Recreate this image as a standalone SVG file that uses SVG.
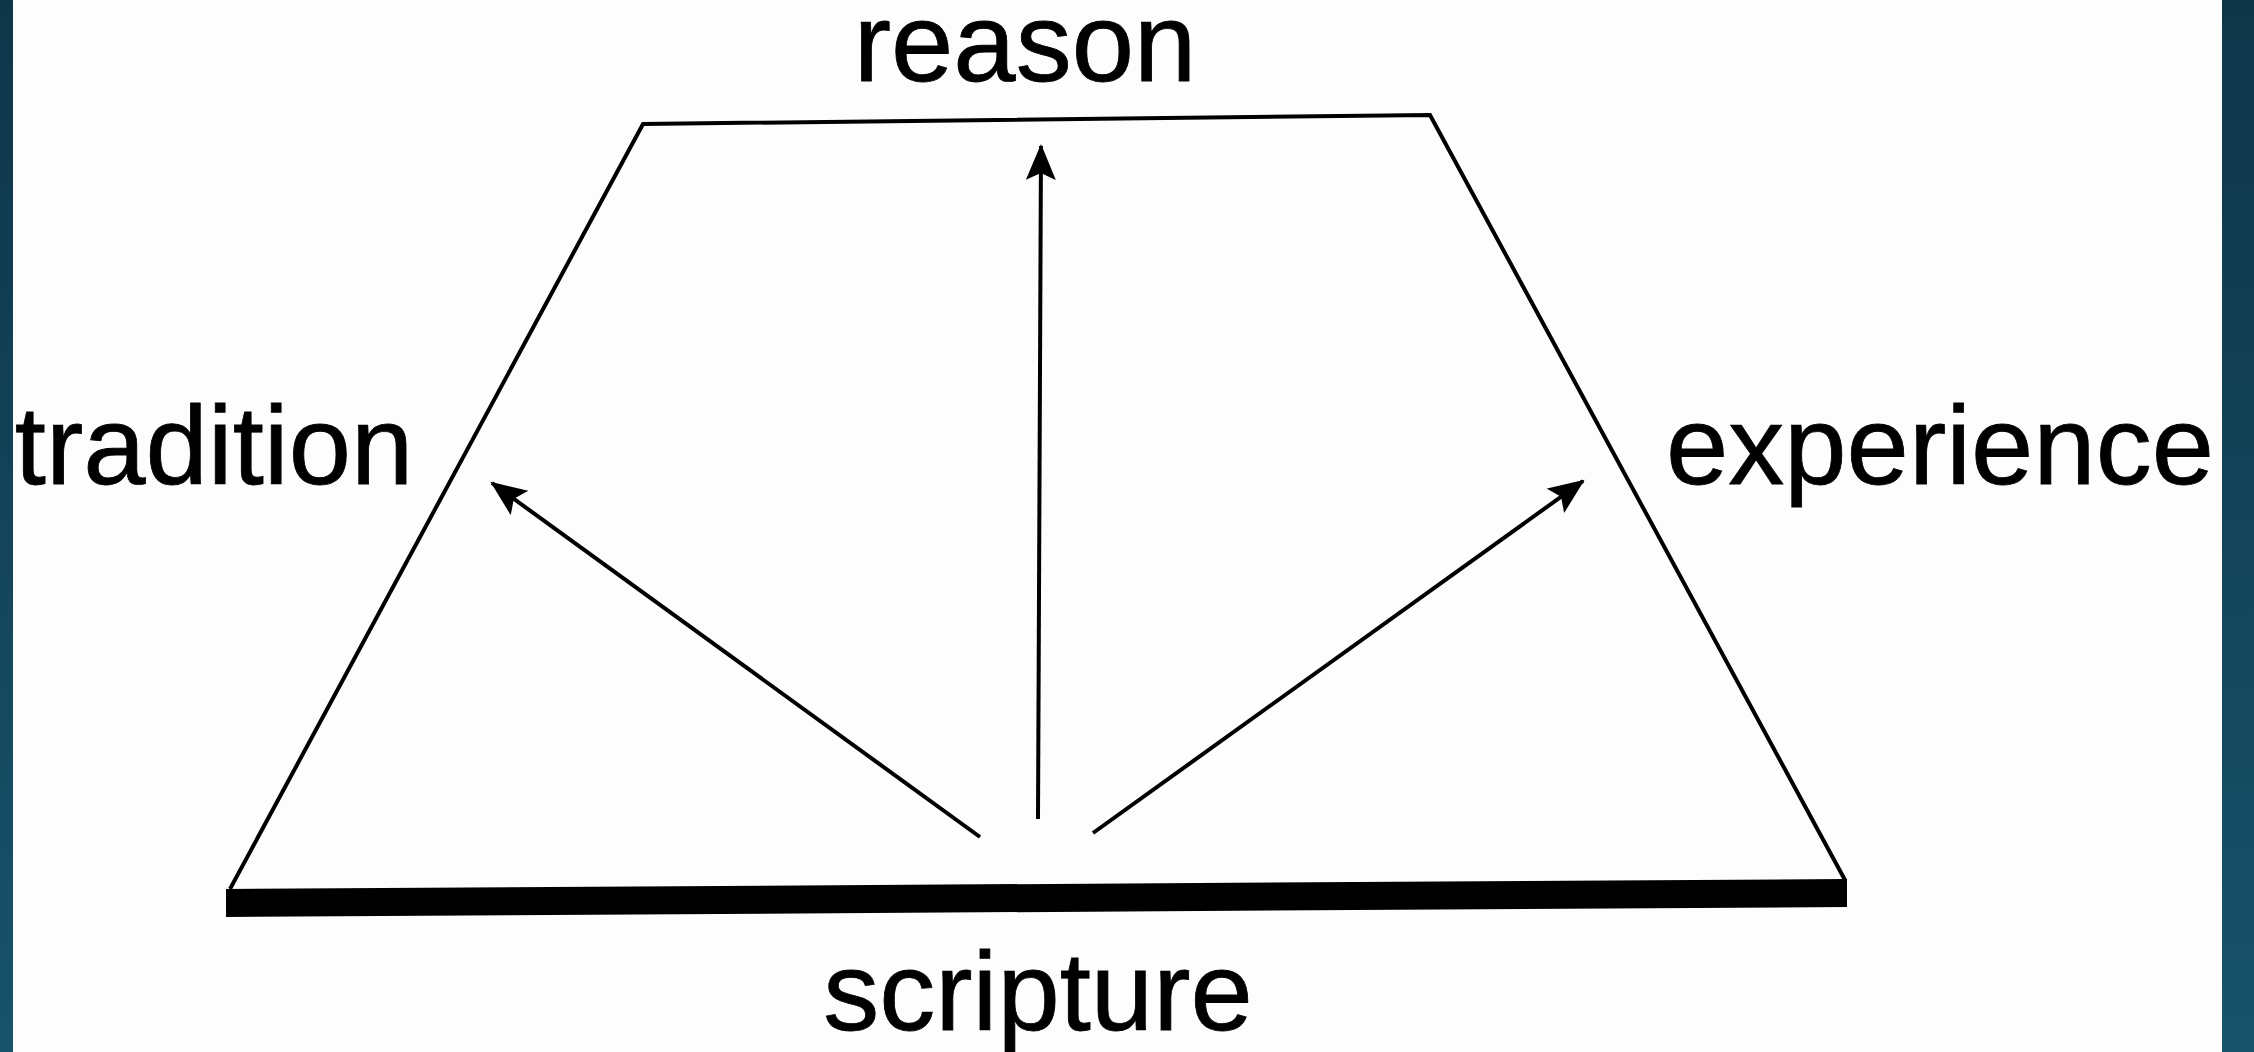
<svg xmlns="http://www.w3.org/2000/svg" width="2254" height="1052" viewBox="0 0 2254 1052">
<defs>
<linearGradient id="bg" x1="0" y1="0" x2="0" y2="1">
<stop offset="0" stop-color="#0f3549"/>
<stop offset="1" stop-color="#17536b"/>
</linearGradient>
<marker id="ah" markerUnits="userSpaceOnUse" markerWidth="38" markerHeight="32" refX="34" refY="15" orient="auto">
<path d="M0,0 L36,15 L0,30 L7,15 z" fill="#000"/>
</marker>
<style>
.lbl{font-family:"Liberation Sans",Arial,sans-serif;font-size:112px;fill:#000;stroke:#000;stroke-width:0.8;text-anchor:middle}
.edge{fill:none;stroke:#000;stroke-width:4;stroke-linejoin:miter}
.arr{fill:none;stroke:#000;stroke-width:4;marker-end:url(#ah)}
</style>
</defs>
<rect x="0" y="0" width="2254" height="1052" fill="url(#bg)"/>
<rect x="13" y="0" width="2209" height="1052" fill="#fdfdfd"/>
<g id="base">
<polyline class="edge" points="230,889 643,124 1430,115 1845,880"/>
<polygon points="226,889 1847,879 1847,907 226,917" fill="#000"/>
</g>
<g id="connectors">
<line class="arr" x1="980" y1="837" x2="492" y2="483"/>
<line class="arr" x1="1038" y1="819" x2="1041" y2="146"/>
<line class="arr" x1="1093" y1="833" x2="1583" y2="481"/>
</g>
<g id="reason"><text class="lbl" x="1025" y="81">reason</text></g>
<g id="tradition"><text class="lbl" x="214" y="484">tradition</text></g>
<g id="experience"><text class="lbl" x="1940" y="484">experience</text></g>
<g id="scripture"><text class="lbl" x="1038" y="1030">scripture</text></g>
</svg>
